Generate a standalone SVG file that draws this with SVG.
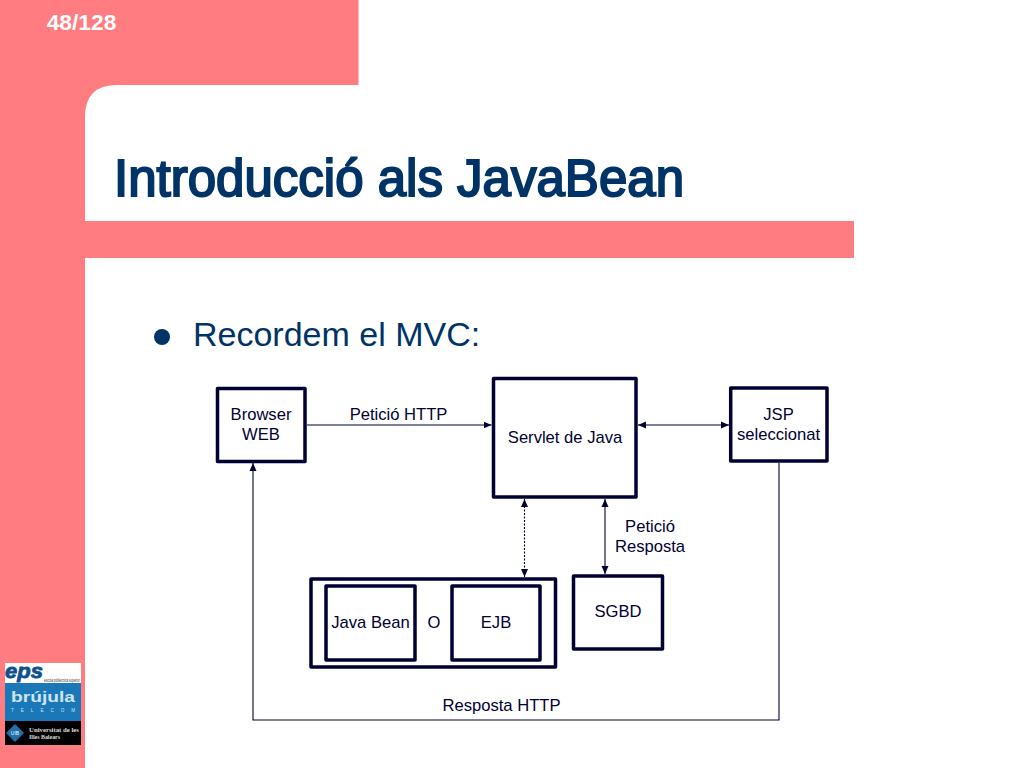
<svg xmlns="http://www.w3.org/2000/svg" width="1024" height="768" viewBox="0 0 1024 768">
<style>
.box{fill:#fff;stroke:#000033;stroke-width:3.5;stroke-linejoin:round}
.lbl{font-family:"Liberation Sans",Arial,sans-serif;font-size:16.600px;fill:#000033;text-anchor:middle}
.con{fill:none;stroke:#000033;stroke-width:1.1}
</style>
<defs>
<marker id="a" viewBox="0 0 8 8" refX="8" refY="4" markerWidth="8" markerHeight="9" markerUnits="userSpaceOnUse" orient="auto-start-reverse"><path d="M0 0.500L8 4L0 7.500Z" fill="#000033"/></marker>
</defs>
<rect width="1024" height="768" fill="#fff"/>
<g id="background">
<path fill="#ff7c80" d="M0 0H358.500V85H117Q85 85 85 117V221H854V258H85V768H0Z"/>
<text x="81.500" y="30" font-family="'Liberation Sans',Arial,sans-serif" font-size="22.800" font-weight="bold" fill="#fff" text-anchor="middle">48/128</text>
</g>
<g id="title">
<text x="114" y="196" font-family="'Liberation Sans',Arial,sans-serif" font-size="51" fill="#003366" stroke="#003366" stroke-width="2" textLength="570" lengthAdjust="spacingAndGlyphs">Introducció als JavaBean</text>
</g>
<g id="bullet">
<circle cx="162" cy="337" r="8" fill="#003366"/>
<text x="193" y="346" font-family="'Liberation Sans',Arial,sans-serif" font-size="34" fill="#003366">Recordem el MVC:</text>
</g>
<g id="logos">
<rect x="5" y="663" width="76" height="20" fill="#fff"/>
<text x="5" y="678" font-family="'Liberation Sans',Arial,sans-serif" font-size="21" font-weight="bold" font-style="italic" fill="#0f4f8f" stroke="#0f4f8f" stroke-width="0.800" textLength="38" lengthAdjust="spacingAndGlyphs">eps</text>
<text x="44" y="681.500" font-family="'Liberation Sans',Arial,sans-serif" font-size="4.500" fill="#333" textLength="36" lengthAdjust="spacingAndGlyphs">escola politècnica superior</text>
<rect x="5" y="683" width="76" height="38" fill="#1a78b8"/>
<text x="43" y="702" font-family="'Liberation Sans',Arial,sans-serif" font-size="15" font-weight="bold" fill="#cfe3f2" text-anchor="middle" textLength="64" lengthAdjust="spacingAndGlyphs">brújula</text>
<text x="43" y="712" font-family="'Liberation Sans',Arial,sans-serif" font-size="4.500" fill="#cfe3f2" text-anchor="middle" textLength="64" lengthAdjust="spacing">TELECOM</text>
<rect x="5" y="721" width="76" height="24" fill="#000"/>
<path d="M15 724L24 733L15 742L6 733Z" fill="#1f6fa8"/>
<text x="15" y="735" font-family="'Liberation Sans',Arial,sans-serif" font-size="5" fill="#fff" text-anchor="middle">UIB</text>
<text x="29" y="732" font-family="'Liberation Serif',serif" font-size="6.500" font-weight="bold" fill="#ddd" textLength="50" lengthAdjust="spacingAndGlyphs">Universitat de les</text>
<text x="29" y="739" font-family="'Liberation Serif',serif" font-size="6.500" font-weight="bold" fill="#ddd" textLength="31" lengthAdjust="spacingAndGlyphs">Illes Balears</text>
</g>
<g id="connectors">
<path class="con" marker-end="url(#a)" d="M307 425H491.500"/>
<path class="con" marker-start="url(#a)" marker-end="url(#a)" d="M638 425H729"/>
<path class="con" stroke-dasharray="2 1.500" marker-start="url(#a)" marker-end="url(#a)" d="M524.500 499V577"/>
<path class="con" marker-start="url(#a)" marker-end="url(#a)" d="M605 499V574"/>
<path class="con" marker-end="url(#a)" d="M779 463V720H253V463"/>
</g>
<g id="browser"><rect class="box" x="217.500" y="388.500" width="87.500" height="73"/>
<text class="lbl" x="261" y="420">Browser</text><text class="lbl" x="261" y="440">WEB</text></g>
<g id="servlet"><rect class="box" x="493.500" y="378.500" width="142.500" height="118.500"/>
<text class="lbl" x="565" y="443">Servlet de Java</text></g>
<g id="jsp"><rect class="box" x="730.700" y="388" width="96.300" height="73"/>
<text class="lbl" x="778.500" y="420">JSP</text><text class="lbl" x="778.500" y="440">seleccionat</text></g>
<g id="container"><rect class="box" x="311" y="579" width="244.500" height="88"/>
<text class="lbl" x="434" y="628">O</text></g>
<g id="javabean"><rect class="box" x="326" y="586" width="89" height="74"/>
<text class="lbl" x="370.500" y="628">Java Bean</text></g>
<g id="ejb"><rect class="box" x="452" y="586" width="88" height="74"/>
<text class="lbl" x="496" y="628">EJB</text></g>
<g id="sgbd"><rect class="box" x="573.500" y="576" width="89" height="73"/>
<text class="lbl" x="618" y="617">SGBD</text></g>
<g id="labels">
<text class="lbl" x="398.500" y="420">Petició HTTP</text>
<text class="lbl" x="650" y="532">Petició</text>
<text class="lbl" x="650" y="552">Resposta</text>
<text class="lbl" x="501.500" y="711">Resposta HTTP</text>
</g>
</svg>
